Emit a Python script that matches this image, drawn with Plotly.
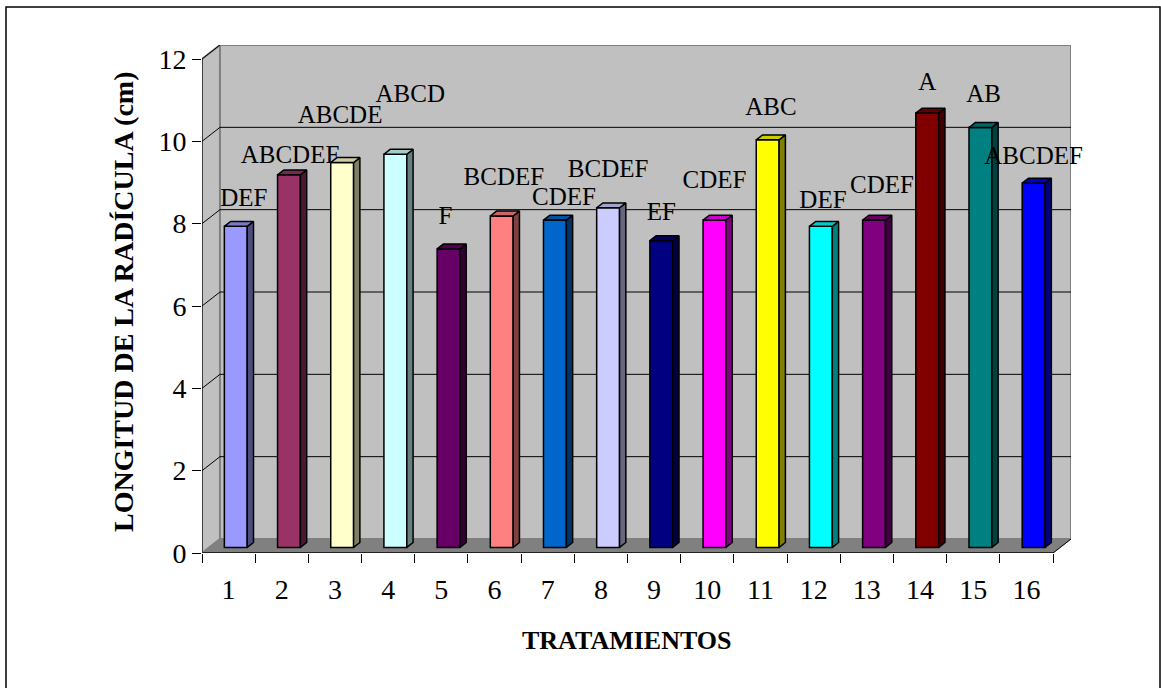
import plotly.graph_objects as go

# ---- data -------------------------------------------------------------
tratamientos = list(range(1, 17))
longitud = [7.8, 9.05, 9.35, 9.55, 7.25, 8.05, 7.95, 8.25,
            7.45, 7.95, 9.9, 7.8, 7.95, 10.55, 10.2, 8.85]
letras = ["DEF", "ABCDEF", "ABCDE", "ABCD", "F", "BCDEF", "CDEF", "BCDEF",
          "EF", "CDEF", "ABC", "DEF", "CDEF", "A", "AB", "ABCDEF"]
colores = ["#9999FF", "#993366", "#FFFFCC", "#CCFFFF", "#660066", "#FF8080",
           "#0066CC", "#CCCCFF", "#000080", "#FF00FF", "#FFFF00", "#00FFFF",
           "#800080", "#800000", "#008080", "#0000FF"]
y_ticks = [0, 2, 4, 6, 8, 10, 12]

# label placement tweaks (value units above bar top / category units sideways)
label_lift = [0.64, 0.44, 1.12, 1.41, 0.76, 0.90, 0.52, 0.90,
              0.66, 0.93, 0.76, 0.59, 0.81, 0.71, 0.76, 0.61]
label_shift = [0.15, 0.02, -0.04, 0.28, -0.06, 0.04, 0.17, 0.0,
               0.0, 0.0, 0.06, 0.04, 0.15, 0.0, 0.06, 0.0]

# ---- geometry of the pseudo-3D box -------------------------------------
W, H = 1161, 688
ML, MR, MT, MB = 202, 90, 45, 135
DX, DY = 0.338, 0.34          # depth of the box in axis units
F0, F1 = 0.40, 0.75           # front / back depth of the bars
BW = 0.43                     # bar width
XMIN, XMAX = 0.5, len(tratamientos) + 0.5
YMAX = max(y_ticks)
FONT = "Liberation Serif, Times New Roman, Times, serif"


def shade(hex_color, k):
    h = hex_color.lstrip("#")
    r, g, b = (int(h[i:i + 2], 16) for i in (0, 2, 4))
    return "rgb({},{},{})".format(int(r * k), int(g * k), int(b * k))


shapes = []
# side wall
shapes.append(dict(type="path", xref="x", yref="y", layer="below",
                   path=f"M{XMIN},0 L{XMIN},{YMAX} L{XMIN+DX},{YMAX+DY} L{XMIN+DX},{DY} Z",
                   fillcolor="#C0C0C0", line=dict(color="#808080", width=2)))
# back wall
shapes.append(dict(type="rect", xref="x", yref="y", layer="below",
                   x0=XMIN + DX, x1=XMAX + DX, y0=DY, y1=YMAX + DY,
                   fillcolor="#C0C0C0", line=dict(color="#808080", width=2)))
# floor
shapes.append(dict(type="path", xref="x", yref="y", layer="below",
                   path=f"M{XMIN},0 L{XMAX},0 L{XMAX+DX},{DY} L{XMIN+DX},{DY} Z",
                   fillcolor="#808080", line=dict(color="#808080", width=1)))
# gridlines on walls
for v in y_ticks[1:-1]:
    shapes.append(dict(type="line", xref="x", yref="y", layer="below",
                       x0=XMIN + DX, x1=XMAX + DX, y0=v + DY, y1=v + DY,
                       line=dict(color="#000000", width=1)))
for v in y_ticks[1:]:
    shapes.append(dict(type="line", xref="x", yref="y", layer="below",
                       x0=XMIN, x1=XMIN + DX, y0=v, y1=v + DY,
                       line=dict(color="#000000", width=1)))
# front axes
shapes.append(dict(type="line", xref="x", yref="y", x0=XMIN, x1=XMIN, y0=0, y1=YMAX,
                   line=dict(color="#000000", width=1)))
shapes.append(dict(type="line", xref="x", yref="y", x0=XMIN, x1=XMAX, y0=0, y1=0,
                   line=dict(color="#222222", width=2)))
shapes.append(dict(type="line", xref="x", yref="y", x0=XMAX, x1=XMAX + DX, y0=0, y1=DY,
                   line=dict(color="#000000", width=1)))

fig = go.Figure()

# front faces of the columns
fig.add_trace(go.Bar(
    x=tratamientos, y=longitud, base=F0 * DY, width=BW,
    offset=-BW / 2 + F0 * DX,
    marker=dict(color=colores, line=dict(color="#000000", width=1.5)),
    hoverinfo="skip", showlegend=False))

# side and top faces of the columns
ddx, ddy = (F1 - F0) * DX, (F1 - F0) * DY
for c, v, col in zip(tratamientos, longitud, colores):
    x0 = c - BW / 2 + F0 * DX
    x1 = x0 + BW
    b = F0 * DY
    t = b + v
    fig.add_trace(go.Scatter(
        x=[x1, x1, x1 + ddx, x1 + ddx, x1], y=[b, t, t + ddy, b + ddy, b],
        fill="toself", fillcolor=shade(col, 0.5), mode="lines",
        line=dict(color="#000000", width=1.5), hoverinfo="skip", showlegend=False))
    fig.add_trace(go.Scatter(
        x=[x0, x1, x1 + ddx, x0 + ddx, x0], y=[t, t, t + ddy, t + ddy, t],
        fill="toself", fillcolor=shade(col, 0.8), mode="lines",
        line=dict(color="#000000", width=1.5), hoverinfo="skip", showlegend=False))

# significance letters
fig.add_trace(go.Scatter(
    x=[c + F0 * DX + s for c, s in zip(tratamientos, label_shift)],
    y=[F0 * DY + v + l for v, l in zip(longitud, label_lift)],
    text=letras, mode="text", textposition="middle center",
    textfont=dict(family=FONT, size=25, color="#000000"),
    cliponaxis=False, hoverinfo="skip", showlegend=False))


def px_to_paper(px, py):
    return (px - ML) / (W - ML - MR), (H - MB - py) / (H - MT - MB)


bx0, by0 = px_to_paper(6, 690)
bx1, by1 = px_to_paper(1160, 7)
shapes.append(dict(type="rect", xref="paper", yref="paper", x0=bx0, x1=bx1, y0=by0, y1=by1,
                   line=dict(color="#000000", width=1.5), fillcolor="rgba(0,0,0,0)"))

tx, ty = px_to_paper(627, 640)
yx, yy = px_to_paper(123, 302)
annotations = [
    dict(text="<b>TRATAMIENTOS</b>", x=tx, y=ty, xref="paper", yref="paper",
         showarrow=False, xanchor="center", yanchor="middle",
         font=dict(family=FONT, size=26, color="#000000")),
    dict(text="<b>LONGITUD DE LA RADÍCULA (cm)</b>", x=yx, y=yy, xref="paper", yref="paper",
         showarrow=False, xanchor="center", yanchor="middle", textangle=-90,
         font=dict(family=FONT, size=28, color="#000000")),
]

fig.update_layout(
    width=W, height=H,
    margin=dict(l=ML, r=MR, t=MT, b=MB),
    paper_bgcolor="#FFFFFF", plot_bgcolor="#FFFFFF",
    shapes=shapes, annotations=annotations,
    xaxis=dict(range=[XMIN, XMAX + DX], tickmode="array", tickvals=tratamientos,
               ticktext=[str(c) for c in tratamientos],
               ticks="outside", ticklen=11, tickcolor="rgba(0,0,0,0)",
               tickfont=dict(family=FONT, size=28, color="#000000"),
               showgrid=False, zeroline=False, showline=False,
               minor=dict(tickmode="array",
                          tickvals=[XMIN + i for i in range(len(tratamientos) + 1)],
                          ticks="outside", ticklen=9, tickcolor="#000000", tickwidth=1,
                          showgrid=False)),
    yaxis=dict(range=[0, YMAX + DY], tickmode="array", tickvals=y_ticks,
               ticks="outside", ticklen=9, tickcolor="#000000", tickwidth=1,
               tickfont=dict(family=FONT, size=28, color="#000000"),
               showgrid=False, zeroline=False, showline=False),
)

fig.write_html("out.html")
